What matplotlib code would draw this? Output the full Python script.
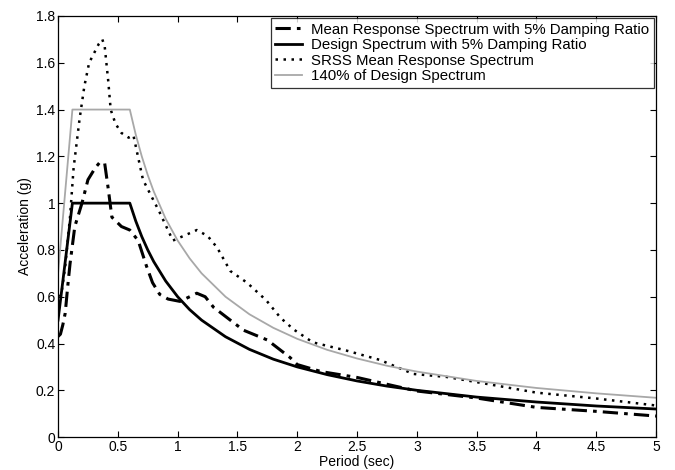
import matplotlib.pyplot as plt

# Period (sec) and acceleration (g)
design_T = [0.0, 0.12, 0.6, 0.65, 0.7, 0.75, 0.8, 0.9, 1.0, 1.1, 1.2, 1.4, 1.6, 1.8,
            2.0, 2.25, 2.5, 2.75, 3.0, 3.5, 4.0, 4.5, 5.0]
design_A = [0.5, 1.0, 1.0, 0.923, 0.857, 0.8, 0.75, 0.667, 0.6, 0.545, 0.5, 0.429,
            0.375, 0.333, 0.3, 0.267, 0.24, 0.218, 0.2, 0.171, 0.15, 0.133, 0.12]
design140_A = [0.7, 1.4, 1.4, 1.292, 1.2, 1.12, 1.05, 0.933, 0.84, 0.764, 0.7, 0.6,
               0.525, 0.467, 0.42, 0.373, 0.336, 0.305, 0.28, 0.24, 0.21, 0.187, 0.168]

mean_T = [0.0, 0.02, 0.04, 0.06, 0.08, 0.10, 0.14, 0.2, 0.25, 0.31, 0.35, 0.39, 0.42,
          0.45, 0.53, 0.6, 0.67, 0.74, 0.79, 0.85, 0.92, 1.02, 1.1, 1.16, 1.23, 1.3,
          1.44, 1.55, 1.75, 1.94, 2.0, 2.2, 2.5, 2.8, 3.0, 3.5, 4.0, 4.5, 5.0]
mean_A = [0.43, 0.44, 0.48, 0.53, 0.64, 0.74, 0.9, 1.0, 1.1, 1.15, 1.175, 1.17, 1.06,
          0.94, 0.9, 0.885, 0.84, 0.73, 0.66, 0.61, 0.59, 0.58, 0.6, 0.615, 0.6, 0.555,
          0.5, 0.457, 0.415, 0.34, 0.31, 0.28, 0.255, 0.22, 0.197, 0.167, 0.127, 0.11, 0.09]

srss_T = [0.0, 0.03, 0.06, 0.1, 0.13, 0.18, 0.22, 0.26, 0.3, 0.34, 0.37, 0.39, 0.42,
          0.44, 0.48, 0.53, 0.59, 0.63, 0.71, 0.85, 0.96, 1.05, 1.16, 1.25, 1.33,
          1.44, 1.58, 1.74, 1.86, 1.97, 2.13, 2.41, 2.69, 2.97, 3.25, 3.5, 4.0, 4.5, 5.0]
srss_A = [0.6, 0.62, 0.73, 0.94, 1.15, 1.36, 1.5, 1.6, 1.64, 1.68, 1.7, 1.67, 1.52,
          1.4, 1.34, 1.3, 1.28, 1.29, 1.1, 0.96, 0.84, 0.86, 0.885, 0.86, 0.81,
          0.71, 0.66, 0.585, 0.51, 0.46, 0.405, 0.37, 0.33, 0.27, 0.257, 0.235, 0.19, 0.165, 0.135]

plt.rcParams['font.family'] = ['Liberation Sans', 'DejaVu Sans']

fig = plt.figure(figsize=(6.75, 4.7), dpi=100)
ax = fig.add_axes([0.086, 0.070, 0.886, 0.896])

ax.plot(mean_T, mean_A, color='black', lw=2.2, linestyle=(0, (5, 2, 1.2, 2)),
        label='Mean Response Spectrum with 5% Damping Ratio')
ax.plot(design_T, design_A, color='black', lw=2.0,
        label='Design Spectrum with 5% Damping Ratio')
ax.plot(srss_T, srss_A, color='black', lw=1.8, linestyle=(0, (1, 2.2)),
        label='SRSS Mean Response Spectrum')
ax.plot(design_T, design140_A, color='#a8a8a8', lw=1.3,
        label='140% of Design Spectrum')

ax.set_xlim(0, 5)
ax.set_ylim(0, 1.8)
ax.set_xticks([0, 0.5, 1, 1.5, 2, 2.5, 3, 3.5, 4, 4.5, 5])
ax.set_xticklabels(['0', '0.5', '1', '1.5', '2', '2.5', '3', '3.5', '4', '4.5', '5'])
ax.set_yticks([0, 0.2, 0.4, 0.6, 0.8, 1, 1.2, 1.4, 1.6, 1.8])
ax.set_yticklabels(['0', '0.2', '0.4', '0.6', '0.8', '1', '1.2', '1.4', '1.6', '1.8'])
ax.tick_params(direction='in', top=True, right=True, labelsize=10, length=4, pad=2)
for s in ax.spines.values():
    s.set_linewidth(0.9)

ax.set_xlabel('Period (sec)', fontsize=10, labelpad=1)
ax.set_ylabel('Acceleration (g)', fontsize=10, labelpad=3)

leg = ax.legend(loc='upper right', fontsize=10.8, frameon=True, fancybox=False,
                edgecolor='black', handlelength=1.8, handletextpad=0.6,
                labelspacing=0.1, borderpad=0.3, borderaxespad=0.15)
leg.get_frame().set_linewidth(0.9)

fig.savefig('out.png', dpi=100)
